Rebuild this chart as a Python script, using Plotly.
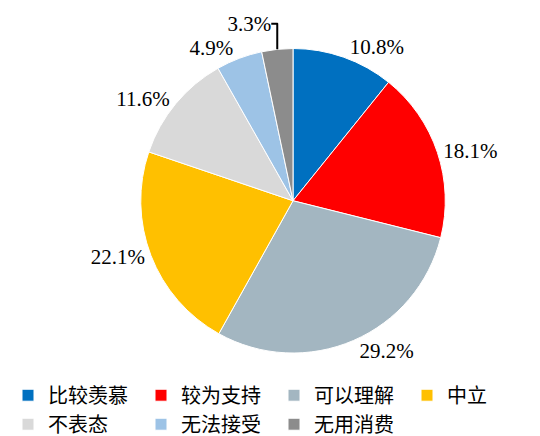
import plotly.graph_objects as go

labels = ["比较羡慕", "较为支持", "可以理解", "中立", "不表态", "无法接受", "无用消费"]
values = [10.8, 18.1, 29.2, 22.1, 11.6, 4.9, 3.3]
colors = ["#0070C0", "#FF0000", "#A3B6C1", "#FFC000", "#D9D9D9", "#9DC3E6", "#8C8C8C"]

W, H = 540, 436

fig = go.Figure(go.Pie(
    labels=labels,
    values=values,
    sort=False,
    direction="clockwise",
    rotation=0,
    marker=dict(colors=colors, line=dict(color="white", width=1)),
    texttemplate="%{value:.1f}%",
    textposition="outside",
    textfont=dict(family="Liberation Serif", size=21, color="black"),
    domain=dict(x=[0.2426, 0.8130], y=[0.1995, 0.906]),
))

fig.update_layout(
    width=W, height=H,
    margin=dict(l=0, r=0, t=0, b=0),
    paper_bgcolor="white",
    plot_bgcolor="white",
    showlegend=True,
    legend=dict(
        orientation="h",
        x=0.0, xanchor="left",
        y=(H - 372) / H, yanchor="top",
        bgcolor="rgba(0,0,0,0)",
        font=dict(family="Noto Sans CJK SC", size=20, color="black"),
        entrywidth=88, entrywidthmode="pixels",
        itemwidth=30,
        tracegroupgap=0,
    ),
)

fig.write_html("out.html")
